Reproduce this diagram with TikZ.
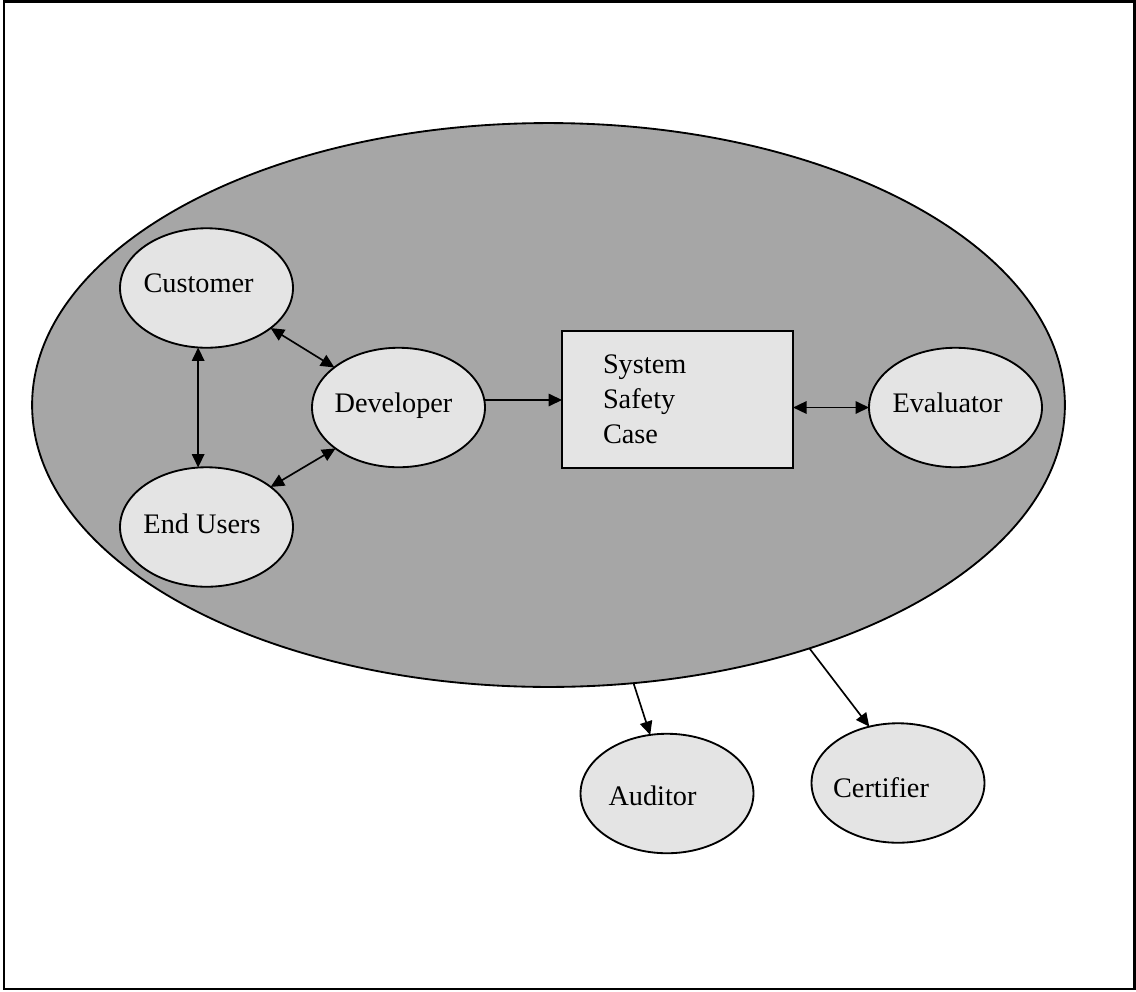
\documentclass[tikz,border=0pt]{standalone}
\usepackage{fontspec}
\setmainfont{Liberation Serif}
\usetikzlibrary{shapes.geometric,arrows.meta,calc}
\definecolor{orgfill}{RGB}{166,166,166}
\definecolor{lightfill}{RGB}{228,228,228}
\begin{document}
\begin{tikzpicture}[x=0.02cm,y=-0.02cm,
  every node/.style={font=\fontsize{16.1pt}{19.8pt}\selectfont},
  party/.style={ellipse, draw=black, line width=1.05pt, fill=lightfill,
    minimum width=3.46cm, minimum height=2.39cm, inner sep=0pt, outer sep=0pt},
  lbl/.style={text depth=0pt, inner sep=0pt},
  conn/.style={line width=0.95pt, -{Triangle[length=0.27cm,width=0.25cm]}},
  bconn/.style={line width=0.95pt, {Triangle[length=0.27cm,width=0.25cm]}-{Triangle[length=0.27cm,width=0.25cm]}}]
\useasboundingbox (0,0) rectangle (1136,991);
\draw[line width=1.3pt] (4,1.5) rectangle (1134.5,989);

\node[ellipse, draw=black, line width=1.05pt, fill=orgfill, minimum width=20.66cm,
  minimum height=11.28cm, inner sep=0pt, outer sep=0pt] (org) at (548.5,405) {};

\node[party, label={[lbl, xshift=-0.16cm, yshift=0.1cm]center:Customer}] (cust) at (206.5,288) {};
\node[party, label={[lbl, xshift=-0.09cm, yshift=0.07cm]center:End Users}] (eu) at (206.5,527) {};
\node[party, label={[lbl, xshift=-0.1cm, yshift=0.09cm]center:Developer}] (dev) at (398.5,407.5) {};
\node[party, label={[lbl, xshift=-0.16cm, yshift=0.1cm]center:Evaluator}] (ev) at (955.5,407.5) {};
\node[party, label={[lbl, xshift=-0.29cm, yshift=-0.05cm]center:Auditor}] (aud) at (667,793.5) {};
\node[party, label={[lbl, xshift=-0.34cm, yshift=-0.1cm]center:Certifier}] (cert) at (898,783) {};

\node[draw=black, line width=1.05pt, fill=lightfill, rectangle, align=left,
  text width=2.98cm, inner xsep=0.82cm, inner ysep=0pt, minimum height=2.74cm,
  outer sep=0pt] (box) at (677.5,399.5) {System\\Safety\\Case};

\draw[bconn] (cust.-98) -- (eu.98);
\draw[bconn] (cust.-32) -- (dev.148);
\draw[bconn] (eu.32) -- (dev.-147);
\draw[conn] (dev.5) -- (dev.5 -| box.west);
\draw[bconn] ($(box.east |- ev.west)+(0.1,0)$) -- (ev.west);
\draw[conn] (org.-73.7) -- (aud.106);
\draw[conn] (org.-43.6) -- (cert.117);
\end{tikzpicture}
\end{document}
